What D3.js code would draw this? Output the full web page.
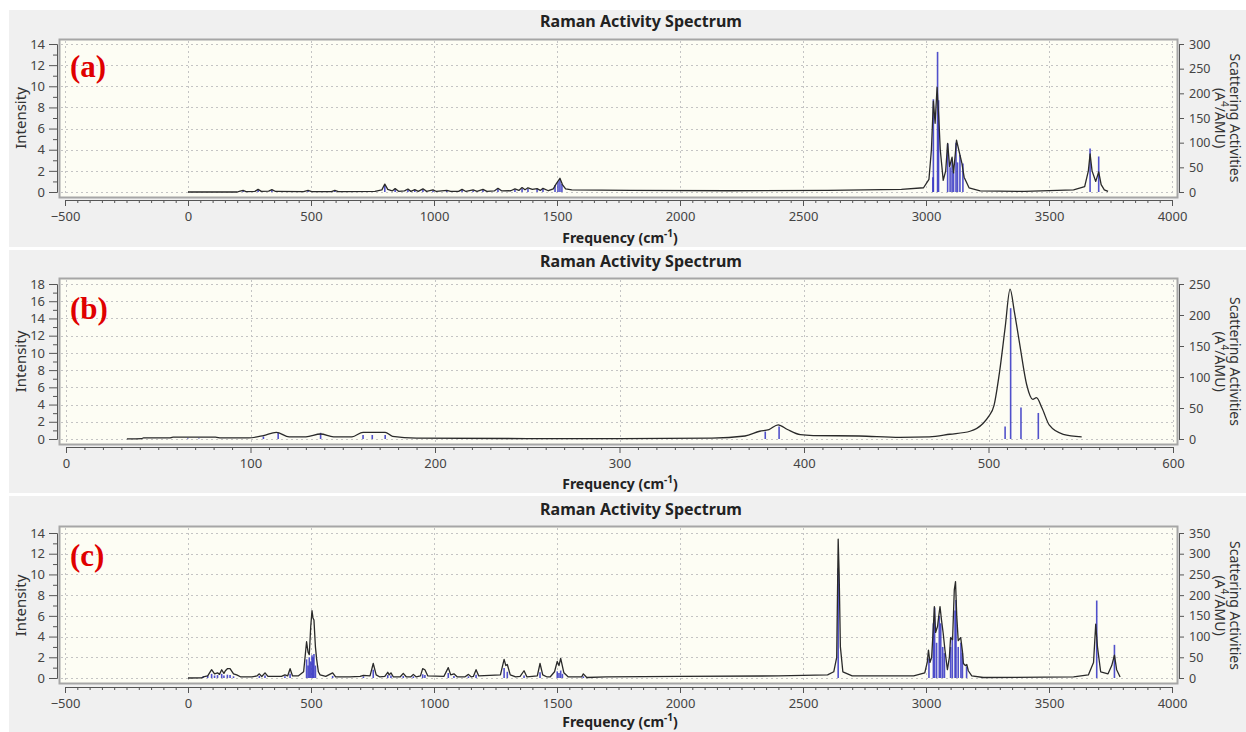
<!DOCTYPE html>
<html>
<head>
<meta charset="utf-8">
<script src="https://cdn.jsdelivr.net/npm/d3@7"></script>
<style>
  body { margin: 0; background: #fff; }
  svg { display: block; }
  text { font-family: "Noto Sans", "DejaVu Sans", sans-serif; }
</style>
</head>
<body>
<svg id="chart" width="1246" height="732"></svg>
<script>
// ---- data: [frequency cm-1, value] ----
// (a) spectrum line (intensity) and sticks (scattering activity)
const curveA = [[0,0],[200,0],[212,0.08],[224,0.15],[236,0.04],[272,0.06],[285,0.25],[298,0.06],[328,0.08],[341,0.22],[356,0.05],
  [470,0.04],[488,0.15],[503,0.03],[583,0.03],[597,0.15],[611,0.03],[760,0.06],[788,0.2],[800,0.75],[812,0.25],[830,0.1],
  [842,0.32],[856,0.06],[880,0.1],[894,0.28],[906,0.06],[922,0.22],[936,0.06],[955,0.3],[970,0.06],[996,0.2],[1010,0.05],
  [1052,0.15],[1068,0.05],[1100,0.06],[1114,0.25],[1130,0.05],[1159,0.2],[1175,0.06],[1199,0.25],[1215,0.06],[1245,0.1],
  [1260,0.35],[1276,0.1],[1312,0.12],[1329,0.3],[1345,0.15],[1358,0.42],[1370,0.22],[1382,0.4],[1400,0.25],[1419,0.32],
  [1432,0.15],[1443,0.35],[1465,0.12],[1485,0.3],[1496,0.75],[1512,1.3],[1522,0.7],[1535,0.3],[1560,0.2],[1800,0.15],
  [2200,0.12],[2600,0.15],[2900,0.25],[2990,0.4],[3012,1.2],[3022,4],[3030,8.6],[3037,6.5],[3045,9.9],[3052,7],[3058,4],
  [3070,1.1],[3080,2],[3088,4.6],[3096,2.4],[3106,3.3],[3112,1.8],[3124,4.9],[3138,3.5],[3146,2.7],[3155,1.4],[3175,0.4],
  [3220,0.1],[3400,0.05],[3600,0.2],[3645,0.5],[3660,2],[3667,3.6],[3675,2],[3690,1],[3702,1.9],[3712,0.7],[3725,0.2],[3740,0.05]];
const sticksA = [[224,3],[285,5],[341,4],[488,3],[597,3],[800,14],[842,5],[894,5],[922,4],[955,5],[996,3],[1052,3],[1114,4],
  [1159,3],[1199,4],[1260,6],[1329,5],[1358,7],[1382,6],[1419,6],[1443,6],[1492,14],[1504,22],[1512,26],[1520,16],
  [3028,30],[3030,188],[3047,284],[3051,186],[3088,98],[3098,50],[3106,65],[3112,40],[3122,100],[3128,60],[3138,75],
  [3150,58],[3667,88],[3702,72]];

// (b)
const curveB = [[33,0.02],[41,0.05],[42,0.12],[56,0.12],[58,0.22],[81,0.22],[84,0.12],[99,0.12],[107,0.4],[114,0.78],
  [121,0.25],[130,0.25],[138,0.58],[145,0.25],[155,0.25],[161,0.78],[173,0.78],[177,0.3],[190,0.1],[250,0.05],[300,0.05],
  [350,0.1],[368,0.35],[376,0.9],[381,1.1],[386,1.65],[391,1.1],[398,0.5],[405,0.4],[430,0.35],[452,0.2],[468,0.25],
  [479,0.55],[490,0.9],[497,1.8],[500,2.6],[503,3.9],[506,7.8],[509,12.9],[511.7,17.4],[514,14.8],[517,10.9],[520.7,6.3],
  [524,4.6],[526,4.8],[529,3.6],[533,1.6],[540.5,0.55],[550.5,0.25]];
const sticksB = [[66,1],[72,1],[107,4],[115,10],[138,10],[161,6.5],[166,6.5],[173,6.5],[379,12],[386.5,20],
  [509,20],[512,211],[517.6,51],[527,42]];

// (c)
const curveC = [[0,0],[55,0.02],[62,0.1],[80,0.2],[96,0.8],[108,0.4],[120,0.5],[128,0.35],[137,0.8],[146,0.45],[152,0.7],
  [160,0.9],[171,0.9],[185,0.4],[198,0.3],[215,0.1],[260,0.1],[280,0.2],[290,0.4],[300,0.15],[313,0.5],[325,0.15],[380,0.15],
  [394,0.3],[405,0.2],[415,0.9],[425,0.2],[448,0.2],[470,0.6],[482,3.5],[488,2.5],[493,2.25],[499,5],[504,6.5],[508,5.8],
  [512,5.6],[518,3],[523,1.8],[530,0.6],[537,0.3],[560,0.15],[588,0.5],[600,0.1],[658,0.1],[700,0.15],[713,0.25],[740,0.2],
  [753,1.4],[765,0.3],[780,0.1],[800,0.15],[812,0.55],[818,0.3],[825,0.5],[835,0.1],[862,0.1],[875,0.45],[888,0.1],[905,0.1],
  [916,0.35],[928,0.1],[945,0.2],[954,0.9],[963,0.8],[975,0.2],[1040,0.15],[1058,1.0],[1068,0.3],[1081,0.4],[1095,0.1],
  [1125,0.1],[1140,0.35],[1152,0.1],[1160,0.15],[1171,0.8],[1182,0.2],[1270,0.3],[1285,1.8],[1292,1.2],[1298,1.3],[1310,0.3],
  [1332,0.1],[1350,0.15],[1366,0.7],[1378,0.1],[1420,0.2],[1431,1.4],[1442,0.3],[1460,0.1],[1472,0.1],[1490,0.6],[1501,1.6],
  [1508,1.2],[1515,1.9],[1528,0.5],[1546,0.1],[1600,0.1],[1607,0.4],[1621,0.05],[1700,0.1],[2000,0.15],[2400,0.2],[2600,0.3],
  [2625,0.6],[2637,2],[2643,13.4],[2647,10],[2652,3],[2662,0.6],[2700,0.2],[2950,0.2],[2995,0.5],[3005,1.5],[3010,2.7],
  [3016,1.5],[3023,2],[3030,5],[3034,6.9],[3039,4.4],[3047,5],[3052,6],[3057,6.9],[3063,5.6],[3070,4.3],[3077,2.7],[3087,0.8],
  [3095,2],[3100,3.9],[3108,3.7],[3115,8.5],[3120,9.3],[3125,6],[3131,3.6],[3141,3.9],[3148,2.6],[3152,1.4],[3160,1.2],
  [3166,1.3],[3172,0.7],[3186,0.2],[3233,0.05],[3600,0.1],[3660,0.3],[3681,1.5],[3690,5.2],[3697,3],[3710,0.6],[3740,0.4],
  [3755,1.2],[3766,2.2],[3775,0.8],[3789,0.1]];
const sticksC = [[62,4],[80,6],[96,10],[108,6],[120,7],[137,10],[146,6],[160,8],[171,7],[185,4],[290,5],[313,6],[394,4],
  [415,10],[482,45],[488,30],[493,50],[499,40],[504,55],[508,50],[512,58],[518,30],[588,5],[713,4],[753,20],[812,7],[825,6],
  [875,5],[916,4],[954,9],[963,7],[1058,12],[1081,5],[1140,4],[1171,8],[1285,24],[1298,15],[1366,6],[1431,14],[1501,16],
  [1508,12],[1515,18],[1522,10],[1607,4],[2643,265],[3012,47],[3030,132],[3035,170],[3043,85],[3054,150],[3060,132],
  [3068,75],[3075,60],[3100,75],[3107,100],[3118,163],[3122,188],[3131,75],[3142,85],[3148,60],[3165,28],[3694,187],[3766,80]];

// axis ranges / ticks
const panelLabels = ["(a)", "(b)", "(c)"];
const xDomains = [[-500, 4000], [0, 600], [-500, 4000]];
const xSteps = [[500, 50], [100, 10], [500, 50]];
const intensityMax = [14, 18, 14];
const activityMax = [300, 250, 350];
const titleText = "Raman Activity Spectrum";

// ---- layout ----
const W = 1246;
const layout = [
  { bg: [10, 247], frame: [39, 197], yr: [192, 44], ax: 200, title: 27, xlab: 243, lab: 77, xr: [65, 1172] },
  { bg: [250, 493], frame: [278, 444], yr: [439, 284], ax: 447, title: 267, xlab: 489, lab: 319, xr: [66, 1173] },
  { bg: [496, 732], frame: [526, 683], yr: [678, 533], ax: 687, title: 515, xlab: 727, lab: 566, xr: [65, 1172] }
];
const curves = [curveA, curveB, curveC];
const sticks = [sticksA, sticksB, sticksC];

const svg = d3.select("#chart");

layout.forEach((L, i) => {
  const g = svg.append("g").attr("class", "panel");
  const x = d3.scaleLinear().domain(xDomains[i]).range(L.xr);
  const yL = d3.scaleLinear().domain([0, intensityMax[i]]).range(L.yr);
  const yR = d3.scaleLinear().domain([0, activityMax[i]]).range(L.yr);

  g.append("rect").attr("x", 9).attr("y", L.bg[0]).attr("width", W - 9).attr("height", L.bg[1] - L.bg[0])
    .attr("fill", "#f0f0f0");
  g.append("rect").attr("x", 59.5).attr("y", L.frame[0] + 0.5).attr("width", 1118).attr("height", L.frame[1] - L.frame[0])
    .attr("fill", "#fdfdf4").attr("stroke", "#a6a6a6").attr("stroke-width", 2);

  const [xMaj, xMin] = xSteps[i];
  const xMajor = d3.range(xDomains[i][0], xDomains[i][1] + 1, xMaj);
  const xMinor = d3.range(xDomains[i][0], xDomains[i][1] + 1, xMin).filter(v => (v - xDomains[i][0]) % xMaj !== 0);
  const yMajor = d3.range(0, intensityMax[i] + 1, 2);
  const yMinor = d3.range(1, intensityMax[i], 2);

  // grid
  const grid = g.append("g").attr("stroke", "#c4c4c4").attr("stroke-dasharray", "2,3").attr("stroke-width", 1);
  grid.selectAll("line.v").data(xMajor).enter().append("line")
    .attr("x1", d => Math.round(x(d)) + 0.5).attr("x2", d => Math.round(x(d)) + 0.5)
    .attr("y1", L.frame[0] + 2).attr("y2", L.frame[1] - 1);
  grid.selectAll("line.h").data(yMajor).enter().append("line")
    .attr("x1", 61).attr("x2", 1176)
    .attr("y1", d => Math.round(yL(d)) + 0.5).attr("y2", d => Math.round(yL(d)) + 0.5);

  // sticks
  g.append("g").selectAll("line").data(sticks[i]).enter().append("line")
    .attr("x1", d => x(d[0])).attr("x2", d => x(d[0]))
    .attr("y1", yR(0)).attr("y2", d => yR(d[1]))
    .attr("stroke", "#3434c4").attr("stroke-width", 1.6).attr("opacity", 0.85);

  // spectrum line
  const line = d3.line().x(d => x(d[0])).y(d => yL(d[1]))
    .curve(i === 1 ? d3.curveMonotoneX : d3.curveLinear);
  g.append("path").datum(curves[i]).attr("d", line)
    .attr("fill", "none").attr("stroke", "#2a2a2a").attr("stroke-width", 1.3).attr("stroke-linejoin", "round");

  // axes
  const styleAxis = sel => {
    sel.selectAll("path.domain").attr("stroke", "#555");
    sel.selectAll(".tick line").attr("stroke", "#555");
    sel.selectAll("text").attr("fill", "#444").style("font-size", "13px")
      .style("font-family", '"Noto Sans", sans-serif');
  };
  g.append("g").attr("transform", `translate(0,${L.ax})`)
    .call(d3.axisBottom(x).tickValues(xMinor).tickSize(3).tickFormat("").tickSizeOuter(0)).call(styleAxis);
  g.append("g").attr("transform", `translate(0,${L.ax})`)
    .call(d3.axisBottom(x).tickValues(xMajor).tickSize(6).tickPadding(6).tickFormat(d3.format("d")).tickSizeOuter(0))
    .call(styleAxis);

  g.append("g").attr("transform", "translate(57,0)")
    .call(d3.axisLeft(yL).tickValues(yMinor).tickSize(4).tickFormat("").tickSizeOuter(0)).call(styleAxis);
  g.append("g").attr("transform", "translate(57,0)")
    .call(d3.axisLeft(yL).tickValues(yMajor).tickSize(8).tickPadding(4).tickSizeOuter(0)).call(styleAxis);

  const right = g.append("g").attr("transform", "translate(1179,0)")
    .call(d3.axisRight(yR).tickValues(d3.range(0, activityMax[i] + 1, 50)).tickSize(5).tickPadding(5).tickSizeOuter(0))
    .call(styleAxis);
  right.selectAll("text").style("font-size", "12.5px");

  // texts
  const cy = (L.yr[0] + L.yr[1]) / 2;
  g.append("text").attr("x", 641).attr("y", L.title).attr("text-anchor", "middle")
    .style("font-size", "16px").style("font-weight", "bold").attr("fill", "#222").text(titleText);

  const xl = g.append("text").attr("x", 620).attr("y", L.xlab).attr("text-anchor", "middle")
    .style("font-size", "14px").style("font-weight", "bold").attr("fill", "#222");
  xl.append("tspan").text("Frequency (cm");
  xl.append("tspan").attr("dy", -6).style("font-size", "10px").text("-1");
  xl.append("tspan").attr("dy", 6).text(")");

  g.append("text").attr("transform", `translate(26,${cy}) rotate(-90)`).attr("text-anchor", "middle")
    .style("font-size", "15px").attr("fill", "#333").text("Intensity");

  g.append("text").attr("transform", `translate(1230,${cy}) rotate(90)`).attr("text-anchor", "middle")
    .style("font-size", "14px").attr("fill", "#333").text("Scattering Activities");
  const rl = g.append("text").attr("transform", `translate(1215,${cy}) rotate(90)`).attr("text-anchor", "middle")
    .style("font-size", "14px").attr("fill", "#333");
  rl.append("tspan").text("(A");
  rl.append("tspan").attr("dy", -6).style("font-size", "10px").text("4");
  rl.append("tspan").attr("dy", 6).text("/AMU)");

  g.append("text").attr("x", 70).attr("y", L.lab)
    .style("font-family", '"Liberation Serif", "Times New Roman", serif')
    .style("font-size", "31px").style("font-weight", "bold").attr("fill", "#e00000").text(panelLabels[i]);
});
</script>
</body>
</html>
